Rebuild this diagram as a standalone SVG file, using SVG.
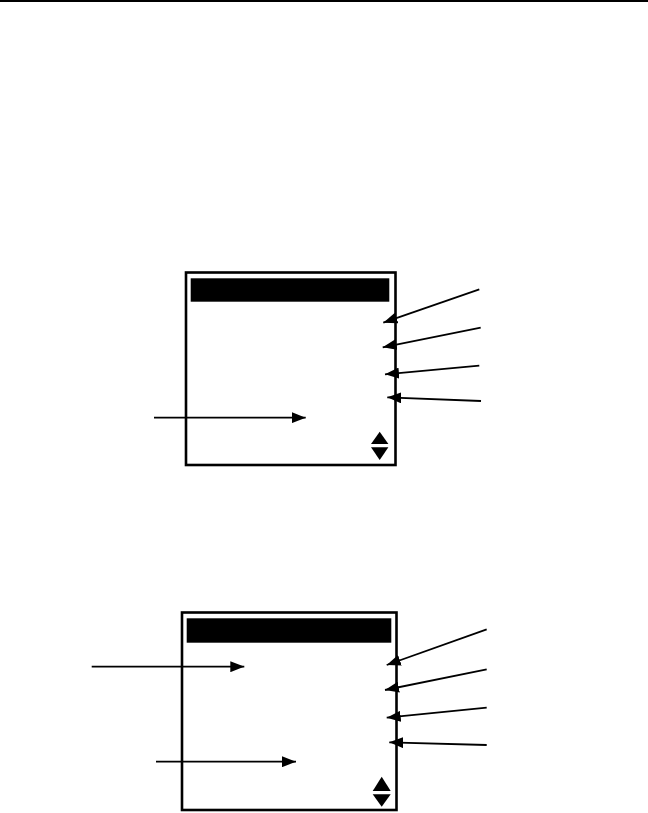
<svg xmlns="http://www.w3.org/2000/svg" width="648" height="813" viewBox="0 0 648 813">
<style>
.frame{fill:none;stroke:#000;stroke-width:2.6}
.bar{fill:#000}
.tri{fill:#000}
.conn line{stroke:#000;stroke-width:1.8;fill:none}
</style>
<defs>
<marker id="ah" viewBox="0 0 14 11" refX="14" refY="5.5" markerWidth="14" markerHeight="11" markerUnits="userSpaceOnUse" orient="auto">
<path d="M0,0 L14,5.5 L0,11 Z" fill="#000"/>
</marker>
</defs>
<rect x="0" y="0" width="648" height="2" fill="#000"/>
<g id="screen1">
<rect class="frame" x="186" y="272.5" width="209.5" height="192.5"/>
<rect class="bar" x="190.7" y="278.3" width="198.6" height="23.4"/>
<path class="tri" d="M371,444 L388.4,444 L379.7,431.7 Z"/>
<path class="tri" d="M371,447.3 L388.4,447.3 L379.7,460 Z"/>
</g>
<g id="screen2">
<rect class="frame" x="182" y="612.5" width="214.5" height="197.5"/>
<rect class="bar" x="186.7" y="618.3" width="204.6" height="24.4"/>
<path class="tri" d="M372.7,791 L390.7,791 L381.7,776.7 Z"/>
<path class="tri" d="M372.7,794.3 L390.7,794.3 L381.7,806.7 Z"/>
</g>
<g id="connectors" class="conn">
<line x1="479.3" y1="289.3" x2="383.3" y2="322.7" marker-end="url(#ah)"/>
<line x1="480.7" y1="327.7" x2="382.7" y2="347.3" marker-end="url(#ah)"/>
<line x1="479.3" y1="365.7" x2="385" y2="374.3" marker-end="url(#ah)"/>
<line x1="481" y1="401" x2="387.3" y2="397.3" marker-end="url(#ah)"/>
<line x1="154" y1="417.7" x2="305.7" y2="417.7" marker-end="url(#ah)"/>
<line x1="486.7" y1="629.3" x2="386.7" y2="665" marker-end="url(#ah)"/>
<line x1="486.7" y1="669.3" x2="385" y2="690" marker-end="url(#ah)"/>
<line x1="486.7" y1="707.7" x2="386.7" y2="717.7" marker-end="url(#ah)"/>
<line x1="486.7" y1="745" x2="389.3" y2="742.3" marker-end="url(#ah)"/>
<line x1="91.7" y1="666.7" x2="244.3" y2="666.7" marker-end="url(#ah)"/>
<line x1="156" y1="761.7" x2="296" y2="761.7" marker-end="url(#ah)"/>
</g>
</svg>
